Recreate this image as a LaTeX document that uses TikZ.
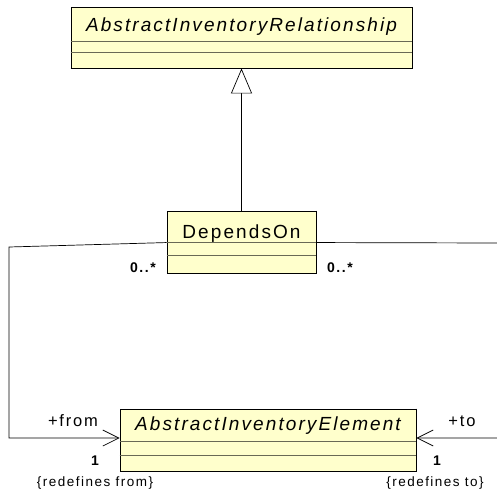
\documentclass[tikz,border=0pt]{standalone}
\usepackage{fontspec}
\setmainfont{Liberation Sans}[LetterSpace=11]
\usepackage{tikz}
\usetikzlibrary{arrows.meta,calc,positioning}
\usepackage{xcolor}
\definecolor{classfill}{RGB}{255,255,204}
\definecolor{sepgray}{RGB}{105,105,85}

\begin{document}
\begin{tikzpicture}[x=1pt, y=-1pt,
    classbox/.style={draw=black, fill=classfill, line width=0.9pt, inner sep=0pt},
    classname/.style={anchor=base, font=\fontsize{19}{19}\selectfont},
    sepline/.style={draw=sepgray, line width=0.8pt},
    shadowline/.style={draw=black, line width=1.8pt},
    assoc/.style={draw=black, line width=0.7pt, -{Straight Barb[length=16pt, width=16pt]}},
    gen/.style={draw=black, line width=0.7pt, -{Triangle[open, length=25pt, width=21pt, fill=white]}},
    rolelabel/.style={anchor=base, font=\fontsize{16.5}{16.5}\selectfont},
    multlabel/.style={anchor=base, font=\fontsize{14}{14}\selectfont\bfseries},
    constrlabel/.style={anchor=base, font=\fontsize{13.5}{13.5}\selectfont}]
    \useasboundingbox (0,0) rectangle (497,495);
    \fill[white] (0,0) rectangle (497,495);
    % Classes
    \node[classbox, minimum width=341pt, minimum height=61pt] (rel) at (241.5,37.5) {};
    \node[classbox, minimum width=149pt, minimum height=62pt] (dep) at (241.5,242) {};
    \node[classbox, minimum width=296pt, minimum height=62pt] (elem) at (268,440) {};
    % Compartments
    \draw[sepline] ($(rel.north west)+(0,35)$) -- ($(rel.north east)+(0,35)$);
    \draw[sepline] ($(rel.north west)+(0,46)$) -- ($(rel.north east)+(0,46)$);
    \draw[sepline] ($(dep.north west)+(0,32)$) -- ($(dep.north east)+(0,32)$);
    \draw[sepline] ($(dep.north west)+(0,45)$) -- ($(dep.north east)+(0,45)$);
    \draw[sepline] ($(elem.north west)+(0,33)$) -- ($(elem.north east)+(0,33)$);
    \draw[sepline] ($(elem.north west)+(0,47)$) -- ($(elem.north east)+(0,47)$);
    \draw[shadowline] (rel.south west) -- (rel.south east);
    \draw[shadowline] (dep.north east) -- (dep.south east) -- (dep.south west);
    \draw[shadowline] (elem.north east) -- (elem.south east) -- (elem.south west);
    % Class names
    \node[classname] (relname) at (241.5,32) {\itshape AbstractInventoryRelationship};
    \node[classname] (depname) at (241.5,238) {DependsOn};
    \node[classname] (elemname) at (268,430) {\itshape AbstractInventoryElement};
    % Generalization
    \draw[gen] (dep.north) -- (rel.south);
    % Associations
    \coordinate (fromA) at (9,247);
    \coordinate (fromB) at (9,438);
    \coordinate (toA) at (499,243);
    \coordinate (toB) at (499,438);
    \draw[assoc] ($(dep.north west)+(0,32)$) -- (fromA) -- (fromB) -- (fromB -| elem.west);
    \draw[assoc] ($(dep.north east)+(0,32)$) -- (toA) -- (toB) -- (toB -| elem.east);
    % End labels
    \node[multlabel] (mfromdep) at (143,272.5) {0..*};
    \node[multlabel] (mtodep) at (340,272.5) {0..*};
    \node[rolelabel] (rfrom) at (73,426) {+from};
    \node[rolelabel] (rto) at (462,426) {+to};
    \node[multlabel] (mfrom) at (95,465) {1};
    \node[multlabel] (mto) at (437,465) {1};
    \node[constrlabel] (cfrom) at (95,486.5) {\{redefines from\}};
    \node[constrlabel] (cto) at (435,486.5) {\{redefines to\}};
\end{tikzpicture}
\end{document}
